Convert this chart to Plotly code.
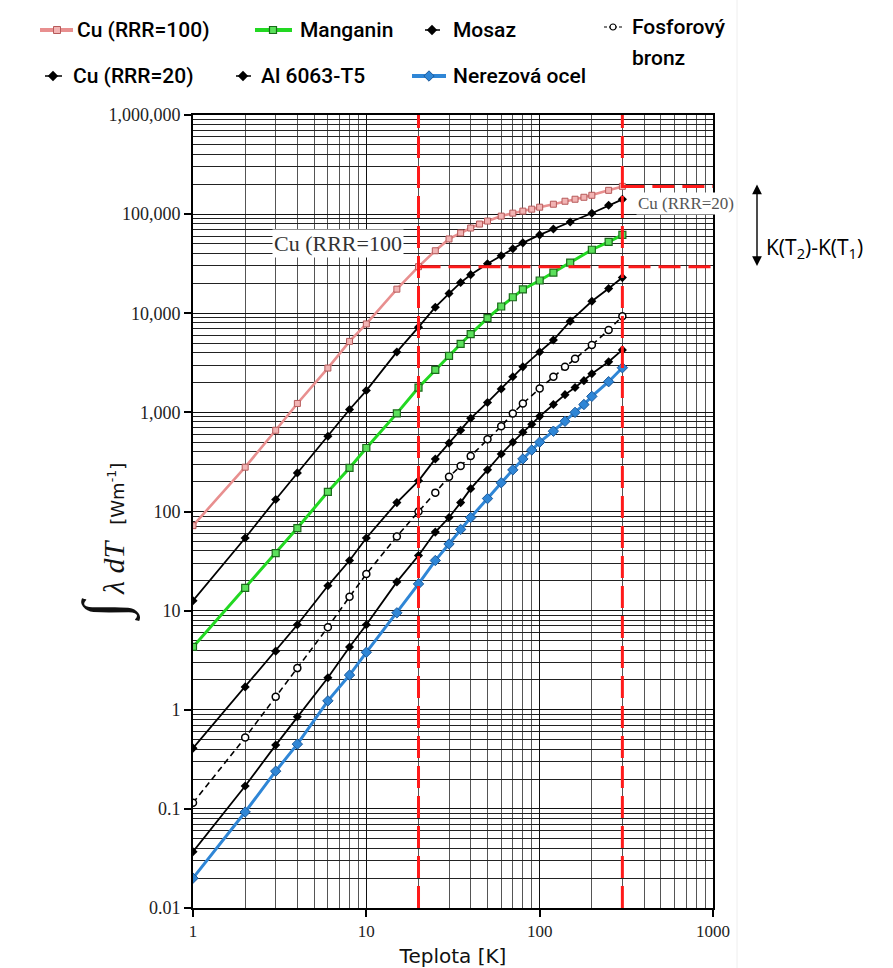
import plotly.graph_objects as go

W, H = 893, 968

# ---------------- data ----------------
T_cu100 = [1, 2, 3, 4, 6, 8, 10, 15, 20, 25, 30, 35, 40, 45, 50, 60, 70, 80, 90, 100, 120, 140, 160, 180, 200, 250, 300]
K_cu100 = [72, 280, 660, 1230, 2800, 5200, 7800, 17500, 29500, 42700, 56200, 64600, 72400, 79400, 85100, 95500,
           102300, 107200, 112200, 117500, 125900, 134900, 141300, 147900, 154900, 173800, 190500]

T_std = [1, 2, 3, 4, 6, 8, 10, 15, 20, 25, 30, 35, 40, 50, 60, 70, 80, 100, 120, 150, 200, 250, 300]
K_cu20 = [12.6, 54, 132, 245, 575, 1070, 1660, 4070, 7240, 11500, 15800, 20400, 24500, 31600, 38000, 44700,
          51300, 61700, 70800, 83200, 102000, 123000, 141000]
K_manganin = [4.3, 17, 38, 68, 158, 275, 437, 977, 1780, 2690, 3720, 4900, 6170, 8910, 11700, 14500, 17400,
              21400, 25700, 32400, 43700, 52500, 61700]
K_mosaz = [0.41, 1.7, 3.9, 7.2, 17.8, 32, 54, 123, 204, 339, 490, 661, 871, 1260, 1720, 2290, 2880, 4070,
           5370, 8320, 13200, 17800, 22900]

T_fosfor = [1, 2, 3, 4, 6, 8, 10, 15, 20, 25, 30, 35, 40, 50, 60, 70, 80, 100, 120, 140, 160, 200, 250, 300]
K_fosfor = [0.115, 0.525, 1.35, 2.63, 6.8, 13.8, 23.4, 56, 100, 155, 224, 288, 363, 537, 724, 977, 1230, 1740,
            2290, 2880, 3470, 4790, 6760, 9330]

T_fine = [1, 2, 3, 4, 6, 8, 10, 15, 20, 25, 30, 35, 40, 50, 60, 70, 80, 90, 100, 120, 140, 160, 180, 200, 250, 300]
K_al = [0.037, 0.17, 0.44, 0.85, 2.1, 4.3, 7.2, 19.5, 36, 62, 87, 123, 170, 263, 380, 501, 631, 759, 912,
        1200, 1510, 1780, 2090, 2450, 3240, 4270]
K_nerez = [0.020, 0.093, 0.24, 0.45, 1.23, 2.24, 3.8, 9.5, 18.6, 32, 47, 66, 87, 135, 195, 263, 339, 417, 501,
           646, 813, 1000, 1200, 1450, 2040, 2820]

T_marks = [20, 300]
K_cu100_20 = 29500
K_cu100_300 = 190500

y_tickvals = [0.01, 0.1, 1, 10, 100, 1000, 10000, 100000, 1000000]
y_ticktext = ["0.01", "0.1", "1", "10", "100", "1,000", "10,000", "100,000", "1,000,000"]
x_tickvals = [1, 10, 100, 1000]
x_ticktext = ["1", "10", "100", "1000"]

# ---------------- styles ----------------
PINK = "#e88f8f"
GREEN = "#22d822"
BLUE = "#2f86d6"
RED = "#ff1a1a"
SERIF = "Liberation Serif"
SANS = "DejaVu Sans"
LEGF = "Roboto"

series = [
    ("Cu (RRR=20)", T_std, K_cu20, dict(color="black", width=1.8), dict(symbol="diamond", size=7, color="black")),
    ("Mosaz", T_std, K_mosaz, dict(color="black", width=1.8), dict(symbol="diamond", size=7, color="black")),
    ("Fosforový bronz", T_fosfor, K_fosfor, dict(color="black", width=1.6, dash="6px,4px"),
     dict(symbol="circle", size=7, color="white", line=dict(color="black", width=1.5))),
    ("Al 6063-T5", T_fine, K_al, dict(color="black", width=1.8), dict(symbol="diamond", size=7, color="black")),
    ("Nerezová ocel", T_fine, K_nerez, dict(color=BLUE, width=3),
     dict(symbol="diamond", size=8, color=BLUE, line=dict(color="#1d5a9a", width=1))),
    ("Manganin", T_std, K_manganin, dict(color=GREEN, width=3),
     dict(symbol="square", size=7, color="#5be05b", line=dict(color="#1a6b1a", width=1.2))),
    ("Cu (RRR=100)", T_cu100, K_cu100, dict(color=PINK, width=2.6),
     dict(symbol="square", size=6, color="#f2b4b4", line=dict(color="#b65a5a", width=1))),
]

fig = go.Figure()
for name, xs, ys, ln, mk in series:
    fig.add_trace(go.Scatter(x=xs, y=ys, name=name, mode="lines+markers", line=ln, marker=mk,
                             showlegend=False, xaxis="x", yaxis="y"))

# ---------------- custom legend (pixel overlay axes) ----------------
leg_items = [
    (40, 73, 57, 30, 75, "Cu (RRR=100)", dict(color=PINK, width=4),
     dict(symbol="square", size=7, color="#f2b4b4", line=dict(color="#b65a5a", width=1))),
    (255, 292, 273, 30, 298, "Manganin", dict(color=GREEN, width=4),
     dict(symbol="square", size=7, color="#5be05b", line=dict(color="#1a6b1a", width=1.2))),
    (425, 440, 432, 30, 451, "Mosaz", dict(color="black", width=1.5),
     dict(symbol="diamond", size=8, color="black")),
    (604, 622, 613, 27, 630, "Fosforový", dict(color="black", width=1.2, dash="3px,2px"),
     dict(symbol="circle", size=6, color="white", line=dict(color="black", width=1.2))),
    (45, 62, 53, 76, 71, "Cu (RRR=20)", dict(color="black", width=1.5),
     dict(symbol="diamond", size=8, color="black")),
    (236, 251, 243, 76, 259, "Al 6063-T5", dict(color="black", width=1.5),
     dict(symbol="diamond", size=8, color="black")),
    (412, 446, 429, 76, 451, "Nerezová ocel", dict(color=BLUE, width=4),
     dict(symbol="diamond", size=8, color=BLUE, line=dict(color="#1d5a9a", width=1))),
]
for x0, x1, xm, yl, xt, txt, ln, mk in leg_items:
    fig.add_trace(go.Scatter(x=[x0, x1], y=[yl, yl], mode="lines", line=ln, showlegend=False,
                             hoverinfo="skip", xaxis="x2", yaxis="y2"))
    fig.add_trace(go.Scatter(x=[xm], y=[yl], mode="markers", marker=mk, showlegend=False,
                             hoverinfo="skip", xaxis="x2", yaxis="y2"))
    fig.add_annotation(x=xt, y=yl, xref="x2", yref="y2", text=txt, showarrow=False,
                       xanchor="left", yanchor="middle",
                       font=dict(family=LEGF, size=21, color="black", weight=500))
fig.add_annotation(x=630, y=58, xref="x2", yref="y2", text="bronz", showarrow=False,
                   xanchor="left", yanchor="middle", font=dict(family=LEGF, size=21, color="black", weight=500))

# ---------------- axes ----------------
xd = [193 / W, 713 / W]
yd = [1 - 908 / H, 1 - 115 / H]

fig.update_layout(
    template="none",
    width=W, height=H, autosize=False,
    margin=dict(l=0, r=0, t=0, b=0, pad=0, autoexpand=False),
    paper_bgcolor="white", plot_bgcolor="rgba(0,0,0,0)",
    showlegend=False,
    xaxis=dict(type="log", range=[0, 3], domain=xd, anchor="y", automargin=False,
               tickvals=x_tickvals, ticktext=x_ticktext,
               tickfont=dict(family=SERIF, size=17, color="#222"),
               ticks="outside", ticklen=7, tickwidth=1.5, tickcolor="black",
               showline=True, linecolor="black", linewidth=2, mirror=True,
               showgrid=True, gridcolor="#111", gridwidth=1.3,
               minor=dict(dtick="D1", showgrid=True, gridcolor="#555", gridwidth=1, ticks=""),
               zeroline=False,
               title=dict(text="Teplota [K]", font=dict(family=SANS, size=20, color="#111"), standoff=16)),
    yaxis=dict(type="log", range=[-2, 6], domain=yd, anchor="x", automargin=False,
               tickvals=y_tickvals, ticktext=y_ticktext,
               tickfont=dict(family=SERIF, size=18, color="#222"),
               ticks="outside", ticklen=7, tickwidth=1.5, tickcolor="black",
               showline=True, linecolor="black", linewidth=2, mirror=True,
               showgrid=True, gridcolor="#111", gridwidth=1.3,
               minor=dict(dtick="D1", showgrid=True, gridcolor="#222", gridwidth=1, ticks=""),
               zeroline=False),
    xaxis2=dict(domain=[0, 1], range=[0, W], anchor="y2", visible=False, fixedrange=True, automargin=False),
    yaxis2=dict(domain=[0, 1], range=[H, 0], anchor="x2", visible=False, fixedrange=True, automargin=False),
)

# ---------------- reference lines (red dashed) ----------------
dash = "22px,8px"
x_far = 10 ** ((730 - 193) / 173.33)
for t in T_marks:
    fig.add_shape(type="line", xref="x", yref="y domain", x0=t, x1=t, y0=0, y1=1,
                  line=dict(color=RED, width=3, dash=dash), layer="above")
fig.add_shape(type="line", xref="x", yref="y", x0=T_marks[1], x1=x_far,
              y0=K_cu100_300, y1=K_cu100_300, line=dict(color=RED, width=3, dash=dash), layer="above")
fig.add_shape(type="line", xref="x", yref="y", x0=T_marks[0], x1=x_far,
              y0=K_cu100_20, y1=K_cu100_20, line=dict(color=RED, width=3, dash=dash), layer="above")

# extra x labels 20 and 300
for t in T_marks:
    fig.add_annotation(x=t, xref="x", y=1 - 927 / H, yref="paper", text=str(t), showarrow=False,
                       yanchor="middle", font=dict(family=SANS, size=17, color="#333"))

# ---------------- in-plot labels ----------------
fig.add_annotation(x=338, y=243, xref="x2", yref="y2", text="Cu (RRR=100", showarrow=False,
                   font=dict(family=SERIF, size=22, color="#333"), bgcolor="white", borderpad=1)
fig.add_annotation(x=686, y=203, xref="x2", yref="y2", text="Cu (RRR=20)", showarrow=False,
                   font=dict(family=SERIF, size=17, color="#555"), bgcolor="white", borderpad=1)
fig.add_annotation(x=764, y=248, xref="x2", yref="y2", text="K(T<sub>2</sub>)-K(T<sub>1</sub>)",
                   showarrow=False, xanchor="left", font=dict(family="Open Sans", size=21, color="black"))
fig.add_annotation(x=757, y=266, xref="x2", yref="y2", ax=757, ay=183, axref="x2", ayref="y2",
                   text="", showarrow=True, arrowhead=2, startarrowhead=2, arrowside="end+start",
                   arrowsize=1.4, arrowwidth=1.4, arrowcolor="black")

# y title
fig.add_annotation(x=106, y=542, xref="x2", yref="y2", textangle=-90, showarrow=False,
                   text='<span style="font-size:60px">∫</span> <i>λ dT</i>'
                        '<span style="font-family:DejaVu Sans;font-size:18px">   [Wm<sup>-1</sup>]</span>',
                   font=dict(family=SERIF, size=30, color="#111"))

# faint frame of pasted image
fig.add_shape(type="line", xref="x2", yref="y2", x0=737, x1=737, y0=0, y1=H,
              line=dict(color="#eeeeee", width=1), layer="below")

fig.write_html("out.html")
